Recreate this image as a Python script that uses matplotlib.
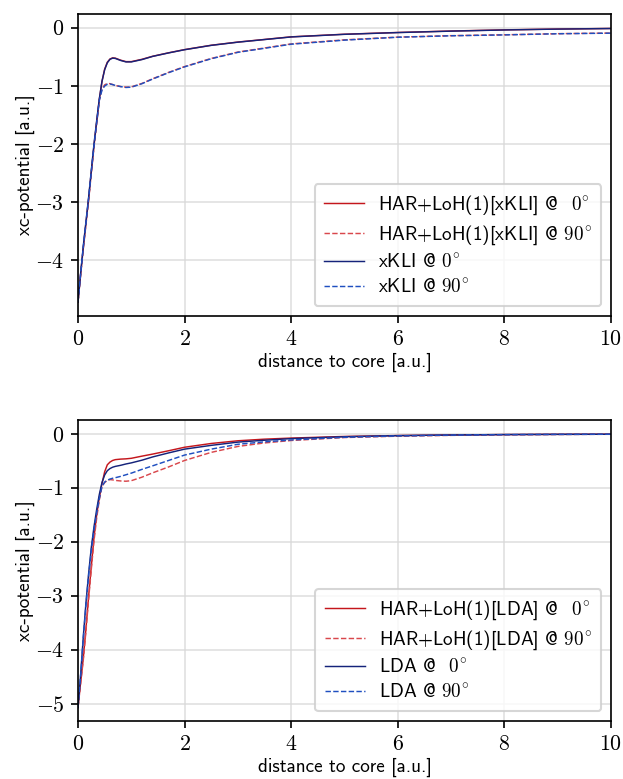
import numpy as np
import matplotlib
matplotlib.use("Agg")
import matplotlib.pyplot as plt
from matplotlib.ticker import FuncFormatter, MultipleLocator

# ---------------- data ----------------
r = [0.0, 0.05, 0.1, 0.15, 0.2, 0.25, 0.3, 0.35, 0.4, 0.45, 0.5, 0.55, 0.6, 0.65,
     0.7, 0.8, 0.9, 1.0, 1.2, 1.4, 1.7, 2.0, 2.5, 3.0, 3.5, 4.0, 5.0, 6.0, 7.0,
     8.0, 9.0, 10.0]

# top panel: xKLI based
xkli_0 = [-4.72, -4.22, -3.75, -3.33, -2.91, -2.45, -2.0, -1.6, -1.22, -0.92, -0.72,
          -0.60, -0.54, -0.52, -0.525, -0.56, -0.585, -0.585, -0.545, -0.49, -0.43,
          -0.375, -0.30, -0.245, -0.20, -0.155, -0.11, -0.08, -0.055, -0.035, -0.02, -0.01]
xkli_90 = [-4.72, -4.23, -3.77, -3.35, -2.93, -2.47, -2.03, -1.64, -1.25, -1.07, -1.0,
           -0.97, -0.965, -0.975, -0.99, -1.01, -1.025, -1.02, -0.96, -0.88, -0.77,
           -0.67, -0.53, -0.42, -0.35, -0.28, -0.21, -0.16, -0.135, -0.12, -0.10, -0.09]
har_xkli_0 = [-4.72, -4.24, -3.78, -3.36, -2.94, -2.48, -2.03, -1.62, -1.23, -0.92, -0.71,
              -0.59, -0.535, -0.515, -0.52, -0.555, -0.58, -0.58, -0.54, -0.488, -0.428,
              -0.373, -0.298, -0.243, -0.198, -0.153, -0.108, -0.078, -0.053, -0.033, -0.019, -0.009]
har_xkli_90 = [-4.72, -4.25, -3.80, -3.38, -2.96, -2.50, -2.05, -1.65, -1.24, -1.05, -0.98,
               -0.955, -0.96, -0.975, -0.99, -1.01, -1.02, -1.015, -0.955, -0.875, -0.765,
               -0.665, -0.525, -0.415, -0.345, -0.275, -0.205, -0.158, -0.133, -0.118, -0.099, -0.088]

# bottom panel: LDA based
lda_0 = [-5.07, -4.45, -3.75, -3.12, -2.58, -2.1, -1.72, -1.4, -1.12, -0.9, -0.76,
         -0.68, -0.64, -0.615, -0.60, -0.58, -0.555, -0.535, -0.485, -0.425, -0.35,
         -0.28, -0.21, -0.15, -0.115, -0.085, -0.05, -0.03, -0.018, -0.01, -0.006, -0.004]
lda_90 = [-5.07, -4.47, -3.78, -3.16, -2.62, -2.15, -1.78, -1.47, -1.2, -0.97, -0.89,
          -0.855, -0.835, -0.82, -0.81, -0.785, -0.755, -0.725, -0.655, -0.59, -0.49,
          -0.39, -0.28, -0.19, -0.145, -0.11, -0.06, -0.035, -0.02, -0.012, -0.007, -0.004]
har_lda_0 = [-5.07, -4.6, -4.15, -3.6, -3.0, -2.45, -1.92, -1.5, -1.18, -0.92, -0.70,
             -0.57, -0.52, -0.49, -0.475, -0.465, -0.46, -0.45, -0.41, -0.372, -0.31,
             -0.245, -0.175, -0.125, -0.095, -0.075, -0.045, -0.028, -0.017, -0.01, -0.006, -0.004]
har_lda_90 = [-5.07, -4.62, -4.18, -3.64, -3.05, -2.5, -1.98, -1.56, -1.22, -0.97, -0.9,
              -0.86, -0.845, -0.85, -0.86, -0.87, -0.875, -0.865, -0.80, -0.72, -0.61,
              -0.49, -0.34, -0.23, -0.165, -0.12, -0.065, -0.04, -0.025, -0.014, -0.008, -0.005]

labels_top = [r"HAR+LoH(1)[xKLI] @ $\;\,0^{\!\circ}$", r"HAR+LoH(1)[xKLI] @ $90^{\!\circ}$",
              r"xKLI @ $0^{\!\circ}$", r"xKLI @ $90^{\!\circ}$"]
labels_bot = [r"HAR+LoH(1)[LDA] @ $\;\,0^{\!\circ}$", r"HAR+LoH(1)[LDA] @ $90^{\!\circ}$",
              r"LDA @ $\;\,0^{\!\circ}$", r"LDA @ $90^{\!\circ}$"]

# ---------------- style ----------------
plt.rcParams["font.family"] = ["cmss10", "DejaVu Sans"]
plt.rcParams["mathtext.fontset"] = "cm"
plt.rcParams["font.size"] = 9.2
plt.rcParams["axes.unicode_minus"] = False

RED = "#c4161c"
RED_D = "#d9474c"
BLUE = "#15237a"
BLUE_D = "#1f4fc0"
LW = 0.7

fig = plt.figure(figsize=(623 / 150, 779 / 150), dpi=150)
ax1 = fig.add_axes([78 / 623, 1 - 316 / 779, (611 - 78) / 623, (316 - 14) / 779])
ax2 = fig.add_axes([78 / 623, 1 - 721 / 779, (611 - 78) / 623, (721 - 420) / 779])

fmt = FuncFormatter(lambda v, p: r"$%g$" % v)


def style(ax, ylim):
    ax.set_xlim(0, 10)
    ax.set_ylim(*ylim)
    ax.xaxis.set_major_locator(MultipleLocator(2))
    ax.yaxis.set_major_locator(MultipleLocator(1))
    ax.xaxis.set_major_formatter(fmt)
    ax.yaxis.set_major_formatter(fmt)
    ax.grid(True, color="#d8d8d8", linewidth=0.8, alpha=0.8)
    ax.set_axisbelow(True)
    ax.tick_params(labelsize=10.5, length=3.5, width=0.8, pad=3)
    for s in ax.spines.values():
        s.set_linewidth(0.8)
    ax.set_xlabel("distance to core [a.u.]", labelpad=2)
    ax.set_ylabel("xc-potential [a.u.]", labelpad=0)


def leg(ax):
    ax.legend(loc="lower right", fontsize=9.2, labelspacing=0.35,
              handlelength=2.1, borderpad=0.5, handletextpad=0.7)


ax1.plot(r, har_xkli_0, color=RED, lw=LW, label=labels_top[0])
ax1.plot(r, har_xkli_90, color=RED_D, lw=LW, ls="--", label=labels_top[1])
ax1.plot(r, xkli_0, color=BLUE, lw=LW, label=labels_top[2])
ax1.plot(r, xkli_90, color=BLUE_D, lw=LW, ls="--", label=labels_top[3])
style(ax1, (-4.96, 0.24))
leg(ax1)

ax2.plot(r, har_lda_0, color=RED, lw=LW, label=labels_bot[0])
ax2.plot(r, har_lda_90, color=RED_D, lw=LW, ls="--", label=labels_bot[1])
ax2.plot(r, lda_0, color=BLUE, lw=LW, label=labels_bot[2])
ax2.plot(r, lda_90, color=BLUE_D, lw=LW, ls="--", label=labels_bot[3])
style(ax2, (-5.32, 0.26))
leg(ax2)

fig.savefig("out.png", dpi=150)
